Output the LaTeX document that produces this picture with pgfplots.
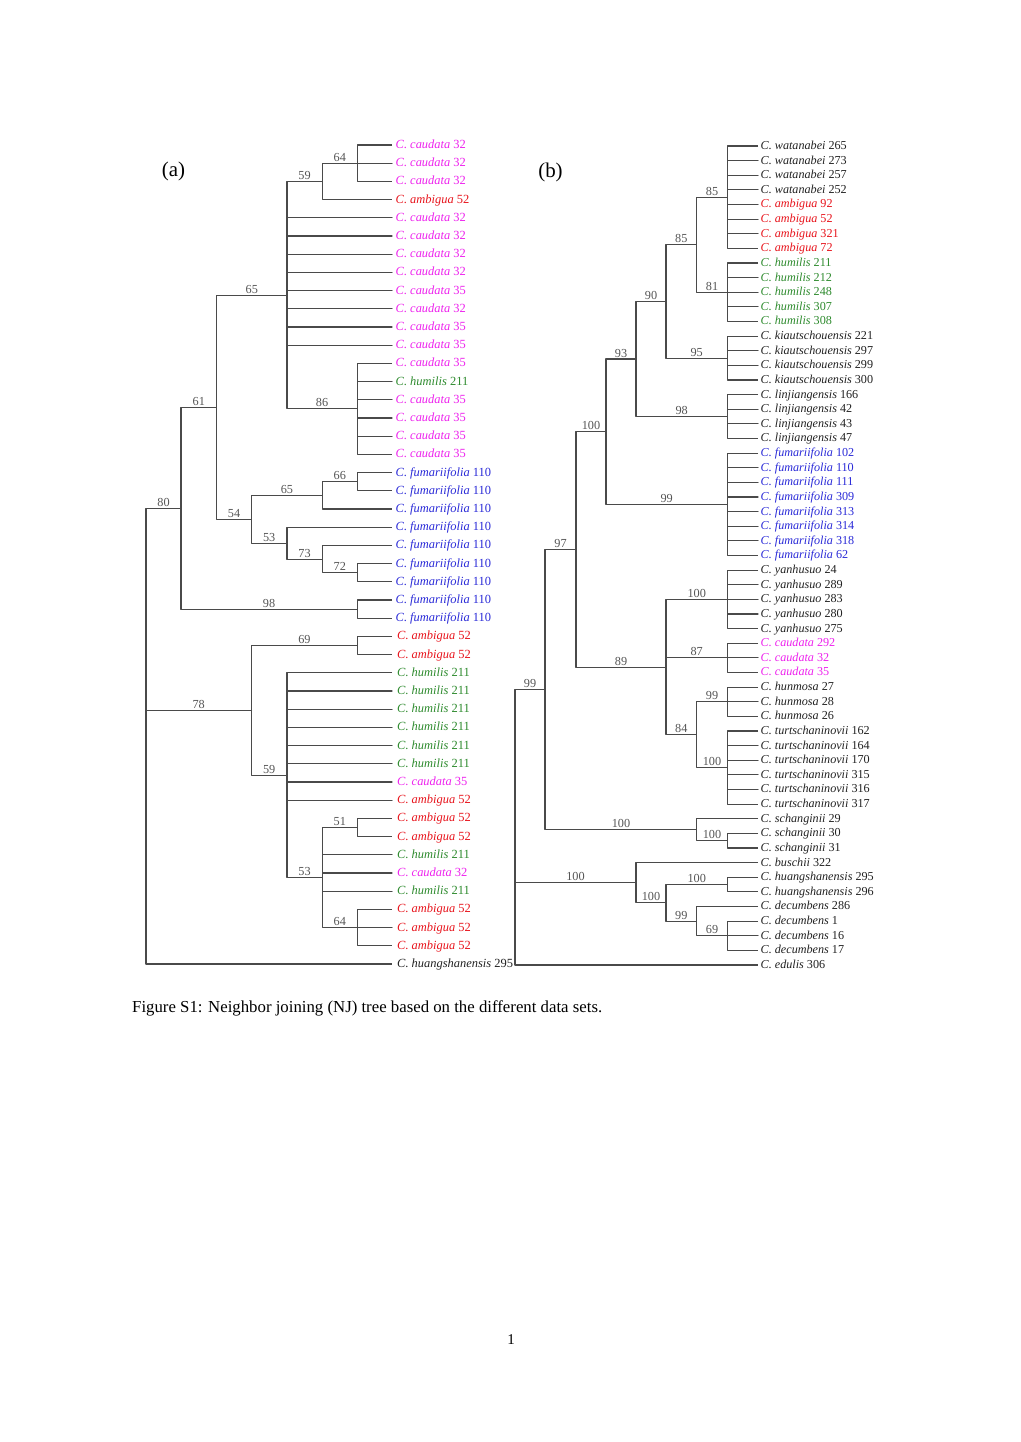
\documentclass[border=0pt]{standalone}
\usepackage{pgfplots}
\pgfplotsset{compat=1.18}
\usepackage{fontspec}
\usepackage{graphicx}
\setmainfont{Liberation Serif}
\definecolor{treecol}{HTML}{4A4A4A}
\definecolor{bscol}{HTML}{555555}
\definecolor{cM}{HTML}{EE22EE}
\definecolor{cR}{HTML}{E8141C}
\definecolor{cG}{HTML}{2E8B2E}
\definecolor{cB}{HTML}{2A2AD8}
\definecolor{cK}{HTML}{222222}
\newcommand{\la}[5]{\node[anchor=mid west,inner sep=0pt,yshift=-1.2bp,text=#1,font=\fontsize{12.5}{14}\selectfont] at (axis cs:#2,#3) {\textit{C.\ #4} #5};}
\newcommand{\lb}[5]{\node[anchor=mid west,inner sep=0pt,yshift=-1.2bp,text=#1,font=\fontsize{12.2}{14}\selectfont] at (axis cs:#2,#3) {\textit{C.\ #4} #5};}
\newcommand{\bs}[3]{\node[anchor=south,inner sep=0pt,yshift=1.6bp,text=bscol,font=\fontsize{12.3}{14}\selectfont] at (axis cs:#1,#2) {#3};}
\pgfplotsset{br/.style={draw=treecol,line width=1.05bp,no marks,line join=round,forget plot}}
\begin{document}
\begin{tikzpicture}
\begin{axis}[scale only axis, width=1020bp, height=1442bp,
  xmin=0, xmax=1020, ymin=0, ymax=1442, y dir=reverse,
  hide axis, clip=false]
\path[fill=white] (axis cs:0,0) rectangle (axis cs:1020,1442);
% ---------------- tree (a) ----------------
\addplot[br] coordinates {(392,145) (357.3,145) (357.3,163.2) (392,163.2) (357.3,163.2) (357.3,181.4) (392,181.4)};
\addplot[br] coordinates {(357.3,163.2) (322.3,163.2) (322.3,199.6) (392,199.6)};
\addplot[br] coordinates {(322.3,181.4) (287,181.4) (287,217.8) (392,217.8) (287,217.8) (287,236) (392,236) (287,236) (287,254.2) (392,254.2) (287,254.2) (287,272.4) (392,272.4) (287,272.4) (287,290.6) (392,290.6) (287,290.6) (287,308.8) (392,308.8) (287,308.8) (287,327) (392,327) (287,327) (287,345.2) (392,345.2) (287,345.2) (287,408.9) (357.3,408.9)};
\addplot[br] coordinates {(392,363.4) (357.3,363.4) (357.3,381.6) (392,381.6) (357.3,381.6) (357.3,399.8) (392,399.8) (357.3,399.8) (357.3,418) (392,418) (357.3,418) (357.3,436.2) (392,436.2) (357.3,436.2) (357.3,454.4) (392,454.4)};
\addplot[br] coordinates {(392,472.6) (357.3,472.6) (357.3,490.8) (392,490.8)};
\addplot[br] coordinates {(357.3,481.7) (322.3,481.7) (322.3,509) (392,509)};
\addplot[br] coordinates {(392,563.6) (357.3,563.6) (357.3,581.8) (392,581.8)};
\addplot[br] coordinates {(392,545.4) (322.3,545.4) (322.3,572.7) (357.3,572.7)};
\addplot[br] coordinates {(392,527.2) (287,527.2) (287,559.05) (322.3,559.05)};
\addplot[br] coordinates {(322.3,495.35) (251.5,495.35) (251.5,543.1) (287,543.1)};
\addplot[br] coordinates {(287,295.15) (216.7,295.15) (216.7,519.2) (251.5,519.2)};
\addplot[br] coordinates {(392,600) (357.3,600) (357.3,618.2) (392,618.2)};
\addplot[br] coordinates {(216.7,407.2) (181,407.2) (181,609.1) (357.3,609.1)};
\addplot[br] coordinates {(392,636.4) (357.3,636.4) (357.3,654.6) (392,654.6)};
\addplot[br] coordinates {(392,818.4) (357.3,818.4) (357.3,836.6) (392,836.6)};
\addplot[br] coordinates {(392,909.4) (357.3,909.4) (357.3,927.6) (392,927.6) (357.3,927.6) (357.3,945.8) (392,945.8)};
\addplot[br] coordinates {(357.3,827.5) (322.3,827.5) (322.3,854.8) (392,854.8) (322.3,854.8) (322.3,873) (392,873) (322.3,873) (322.3,891.2) (392,891.2) (322.3,891.2) (322.3,927.6) (357.3,927.6)};
\addplot[br] coordinates {(392,672.8) (287,672.8) (287,691) (392,691) (287,691) (287,709.2) (392,709.2) (287,709.2) (287,727.4) (392,727.4) (287,727.4) (287,745.6) (392,745.6) (287,745.6) (287,763.8) (392,763.8) (287,763.8) (287,782) (392,782) (287,782) (287,800.2) (392,800.2) (287,800.2) (287,877.55) (322.3,877.55)};
\addplot[br] coordinates {(357.3,645.5) (251.5,645.5) (251.5,775.2) (287,775.2)};
\addplot[br] coordinates {(181,508.15) (146,508.15) (146,710.35) (251.5,710.35) (146,710.35) (146,964) (392,964)};
% ---------------- tree (b) ----------------
\addplot[br] coordinates {(758,146) (727.3,146) (727.3,160.6) (758,160.6) (727.3,160.6) (727.3,175.3) (758,175.3) (727.3,175.3) (727.3,189.9) (758,189.9) (727.3,189.9) (727.3,204.5) (758,204.5) (727.3,204.5) (727.3,219.1) (758,219.1) (727.3,219.1) (727.3,233.8) (758,233.8) (727.3,233.8) (727.3,248.4) (758,248.4)};
\addplot[br] coordinates {(758,263) (727.3,263) (727.3,277.6) (758,277.6) (727.3,277.6) (727.3,292.3) (758,292.3) (727.3,292.3) (727.3,306.9) (758,306.9) (727.3,306.9) (727.3,321.5) (758,321.5)};
\addplot[br] coordinates {(727.3,197.2) (696.7,197.2) (696.7,292.3) (727.3,292.3)};
\addplot[br] coordinates {(758,336.1) (727.3,336.1) (727.3,350.8) (758,350.8) (727.3,350.8) (727.3,365.4) (758,365.4) (727.3,365.4) (727.3,380) (758,380)};
\addplot[br] coordinates {(696.7,244.7) (666,244.7) (666,358.1) (727.3,358.1)};
\addplot[br] coordinates {(758,394.6) (727.3,394.6) (727.3,409.3) (758,409.3) (727.3,409.3) (727.3,423.9) (758,423.9) (727.3,423.9) (727.3,438.5) (758,438.5)};
\addplot[br] coordinates {(666,301.4) (636,301.4) (636,416.6) (727.3,416.6)};
\addplot[br] coordinates {(758,453.1) (727.3,453.1) (727.3,467.8) (758,467.8) (727.3,467.8) (727.3,482.4) (758,482.4) (727.3,482.4) (727.3,497) (758,497) (727.3,497) (727.3,511.6) (758,511.6) (727.3,511.6) (727.3,526.3) (758,526.3) (727.3,526.3) (727.3,540.9) (758,540.9) (727.3,540.9) (727.3,555.5) (758,555.5)};
\addplot[br] coordinates {(636,359) (606,359) (606,504.3) (727.3,504.3)};
\addplot[br] coordinates {(758,570.1) (727.3,570.1) (727.3,584.8) (758,584.8) (727.3,584.8) (727.3,599.4) (758,599.4) (727.3,599.4) (727.3,614) (758,614) (727.3,614) (727.3,628.6) (758,628.6)};
\addplot[br] coordinates {(758,643.3) (727.3,643.3) (727.3,657.9) (758,657.9) (727.3,657.9) (727.3,672.5) (758,672.5)};
\addplot[br] coordinates {(758,687.1) (727.3,687.1) (727.3,701.8) (758,701.8) (727.3,701.8) (727.3,716.4) (758,716.4)};
\addplot[br] coordinates {(758,731) (727.3,731) (727.3,745.6) (758,745.6) (727.3,745.6) (727.3,760.3) (758,760.3) (727.3,760.3) (727.3,774.9) (758,774.9) (727.3,774.9) (727.3,789.5) (758,789.5) (727.3,789.5) (727.3,804.1) (758,804.1)};
\addplot[br] coordinates {(727.3,701.8) (696.7,701.8) (696.7,767.6) (727.3,767.6)};
\addplot[br] coordinates {(727.3,599.4) (666,599.4) (666,657.9) (727.3,657.9) (666,657.9) (666,734.7) (696.7,734.7)};
\addplot[br] coordinates {(606,431.7) (576,431.7) (576,667.1) (666,667.1)};
\addplot[br] coordinates {(758,833.4) (727.3,833.4) (727.3,848) (758,848)};
\addplot[br] coordinates {(758,818.8) (696.7,818.8) (696.7,840.7) (727.3,840.7)};
\addplot[br] coordinates {(576,549.4) (545,549.4) (545,829.7) (696.7,829.7)};
\addplot[br] coordinates {(758,877.3) (727.3,877.3) (727.3,891.9) (758,891.9)};
\addplot[br] coordinates {(758,921.1) (727.3,921.1) (727.3,935.8) (758,935.8) (727.3,935.8) (727.3,950.4) (758,950.4)};
\addplot[br] coordinates {(758,906.5) (696.7,906.5) (696.7,935.8) (727.3,935.8)};
\addplot[br] coordinates {(727.3,884.6) (666,884.6) (666,921.1) (696.7,921.1)};
\addplot[br] coordinates {(758,862.6) (636,862.6) (636,902.9) (666,902.9)};
\addplot[br] coordinates {(545,689.6) (515,689.6) (515,882.7) (636,882.7) (515,882.7) (515,965) (758,965)};
% ---------------- leaf labels (a) ----------------
\la{cM}{395.5}{145}{caudata}{32}
\la{cM}{395.5}{163.2}{caudata}{32}
\la{cM}{395.5}{181.4}{caudata}{32}
\la{cR}{395.5}{199.6}{ambigua}{52}
\la{cM}{395.5}{217.8}{caudata}{32}
\la{cM}{395.5}{236}{caudata}{32}
\la{cM}{395.5}{254.2}{caudata}{32}
\la{cM}{395.5}{272.4}{caudata}{32}
\la{cM}{395.5}{290.6}{caudata}{35}
\la{cM}{395.5}{308.8}{caudata}{32}
\la{cM}{395.5}{327}{caudata}{35}
\la{cM}{395.5}{345.2}{caudata}{35}
\la{cM}{395.5}{363.4}{caudata}{35}
\la{cG}{395.5}{381.6}{humilis}{211}
\la{cM}{395.5}{399.8}{caudata}{35}
\la{cM}{395.5}{418}{caudata}{35}
\la{cM}{395.5}{436.2}{caudata}{35}
\la{cM}{395.5}{454.4}{caudata}{35}
\la{cB}{395.5}{472.6}{fumariifolia}{110}
\la{cB}{395.5}{490.8}{fumariifolia}{110}
\la{cB}{395.5}{509}{fumariifolia}{110}
\la{cB}{395.5}{527.2}{fumariifolia}{110}
\la{cB}{395.5}{545.4}{fumariifolia}{110}
\la{cB}{395.5}{563.6}{fumariifolia}{110}
\la{cB}{395.5}{581.8}{fumariifolia}{110}
\la{cB}{395.5}{600}{fumariifolia}{110}
\la{cB}{395.5}{618.2}{fumariifolia}{110}
\la{cR}{397}{636.4}{ambigua}{52}
\la{cR}{397}{654.6}{ambigua}{52}
\la{cG}{397}{672.8}{humilis}{211}
\la{cG}{397}{691}{humilis}{211}
\la{cG}{397}{709.2}{humilis}{211}
\la{cG}{397}{727.4}{humilis}{211}
\la{cG}{397}{745.6}{humilis}{211}
\la{cG}{397}{763.8}{humilis}{211}
\la{cM}{397}{782}{caudata}{35}
\la{cR}{397}{800.2}{ambigua}{52}
\la{cR}{397}{818.4}{ambigua}{52}
\la{cR}{397}{836.6}{ambigua}{52}
\la{cG}{397}{854.8}{humilis}{211}
\la{cM}{397}{873}{caudata}{32}
\la{cG}{397}{891.2}{humilis}{211}
\la{cR}{397}{909.4}{ambigua}{52}
\la{cR}{397}{927.6}{ambigua}{52}
\la{cR}{397}{945.8}{ambigua}{52}
\la{cK}{397}{964}{huangshanensis}{295}
% ---------------- leaf labels (b) ----------------
\lb{cK}{760.5}{146}{watanabei}{265}
\lb{cK}{760.5}{160.6}{watanabei}{273}
\lb{cK}{760.5}{175.3}{watanabei}{257}
\lb{cK}{760.5}{189.9}{watanabei}{252}
\lb{cR}{760.5}{204.5}{ambigua}{92}
\lb{cR}{760.5}{219.1}{ambigua}{52}
\lb{cR}{760.5}{233.8}{ambigua}{321}
\lb{cR}{760.5}{248.4}{ambigua}{72}
\lb{cG}{760.5}{263}{humilis}{211}
\lb{cG}{760.5}{277.6}{humilis}{212}
\lb{cG}{760.5}{292.3}{humilis}{248}
\lb{cG}{760.5}{306.9}{humilis}{307}
\lb{cG}{760.5}{321.5}{humilis}{308}
\lb{cK}{760.5}{336.1}{kiautschouensis}{221}
\lb{cK}{760.5}{350.8}{kiautschouensis}{297}
\lb{cK}{760.5}{365.4}{kiautschouensis}{299}
\lb{cK}{760.5}{380}{kiautschouensis}{300}
\lb{cK}{760.5}{394.6}{linjiangensis}{166}
\lb{cK}{760.5}{409.3}{linjiangensis}{42}
\lb{cK}{760.5}{423.9}{linjiangensis}{43}
\lb{cK}{760.5}{438.5}{linjiangensis}{47}
\lb{cB}{760.5}{453.1}{fumariifolia}{102}
\lb{cB}{760.5}{467.8}{fumariifolia}{110}
\lb{cB}{760.5}{482.4}{fumariifolia}{111}
\lb{cB}{760.5}{497}{fumariifolia}{309}
\lb{cB}{760.5}{511.6}{fumariifolia}{313}
\lb{cB}{760.5}{526.3}{fumariifolia}{314}
\lb{cB}{760.5}{540.9}{fumariifolia}{318}
\lb{cB}{760.5}{555.5}{fumariifolia}{62}
\lb{cK}{760.5}{570.1}{yanhusuo}{24}
\lb{cK}{760.5}{584.8}{yanhusuo}{289}
\lb{cK}{760.5}{599.4}{yanhusuo}{283}
\lb{cK}{760.5}{614}{yanhusuo}{280}
\lb{cK}{760.5}{628.6}{yanhusuo}{275}
\lb{cM}{760.5}{643.3}{caudata}{292}
\lb{cM}{760.5}{657.9}{caudata}{32}
\lb{cM}{760.5}{672.5}{caudata}{35}
\lb{cK}{760.5}{687.1}{hunmosa}{27}
\lb{cK}{760.5}{701.8}{hunmosa}{28}
\lb{cK}{760.5}{716.4}{hunmosa}{26}
\lb{cK}{760.5}{731}{turtschaninovii}{162}
\lb{cK}{760.5}{745.6}{turtschaninovii}{164}
\lb{cK}{760.5}{760.3}{turtschaninovii}{170}
\lb{cK}{760.5}{774.9}{turtschaninovii}{315}
\lb{cK}{760.5}{789.5}{turtschaninovii}{316}
\lb{cK}{760.5}{804.1}{turtschaninovii}{317}
\lb{cK}{760.5}{818.8}{schanginii}{29}
\lb{cK}{760.5}{833.4}{schanginii}{30}
\lb{cK}{760.5}{848}{schanginii}{31}
\lb{cK}{760.5}{862.6}{buschii}{322}
\lb{cK}{760.5}{877.3}{huangshanensis}{295}
\lb{cK}{760.5}{891.9}{huangshanensis}{296}
\lb{cK}{760.5}{906.5}{decumbens}{286}
\lb{cK}{760.5}{921.1}{decumbens}{1}
\lb{cK}{760.5}{935.8}{decumbens}{16}
\lb{cK}{760.5}{950.4}{decumbens}{17}
\lb{cK}{760.5}{965}{edulis}{306}
% ---------------- bootstrap (a) ----------------
\bs{339.8}{163.2}{64}
\bs{304.6}{181.4}{59}
\bs{251.8}{295.15}{65}
\bs{322.1}{408.9}{86}
\bs{198.8}{407.2}{61}
\bs{163.5}{508.15}{80}
\bs{339.8}{481.7}{66}
\bs{286.9}{495.35}{65}
\bs{234.1}{519.2}{54}
\bs{269.2}{543.1}{53}
\bs{304.6}{559.05}{73}
\bs{339.8}{572.7}{72}
\bs{269.1}{609.1}{98}
\bs{198.7}{710.35}{78}
\bs{304.4}{645.5}{69}
\bs{269.2}{775.2}{59}
\bs{304.6}{877.55}{53}
\bs{339.8}{827.5}{51}
\bs{339.8}{927.6}{64}
% ---------------- bootstrap (b) ----------------
\bs{712}{197.2}{85}
\bs{712}{292.3}{81}
\bs{681.3}{244.7}{85}
\bs{696.7}{358.1}{95}
\bs{651}{301.4}{90}
\bs{681.7}{416.6}{98}
\bs{621}{359}{93}
\bs{666.7}{504.3}{99}
\bs{591}{431.7}{100}
\bs{696.7}{599.4}{100}
\bs{696.7}{657.9}{87}
\bs{712}{701.8}{99}
\bs{712}{767.6}{100}
\bs{681.3}{734.7}{84}
\bs{621}{667.1}{89}
\bs{560.5}{549.4}{97}
\bs{712}{840.7}{100}
\bs{621}{829.7}{100}
\bs{530}{689.6}{99}
\bs{696.7}{884.6}{100}
\bs{712}{935.8}{69}
\bs{681.3}{921.1}{99}
\bs{651}{902.9}{100}
\bs{575.5}{882.7}{100}
% ---------------- panel letters, caption, page number ----------------
\node[anchor=center,inner sep=0pt,font=\fontsize{21}{24}\selectfont] at (axis cs:173.5,171) {(a)};
\node[anchor=center,inner sep=0pt,font=\fontsize{21}{24}\selectfont] at (axis cs:550.5,172) {(b)};
\node[anchor=base west,inner sep=0pt,font=\fontsize{15}{18}\selectfont] at (axis cs:132,1012) {\resizebox{470bp}{!}{Figure S1: Neighbor joining (NJ) tree based on the different data sets.}};
\node[anchor=base,inner sep=0pt,font=\fontsize{15}{18}\selectfont] at (axis cs:511,1344) {1};
\end{axis}
\end{tikzpicture}
\end{document}
